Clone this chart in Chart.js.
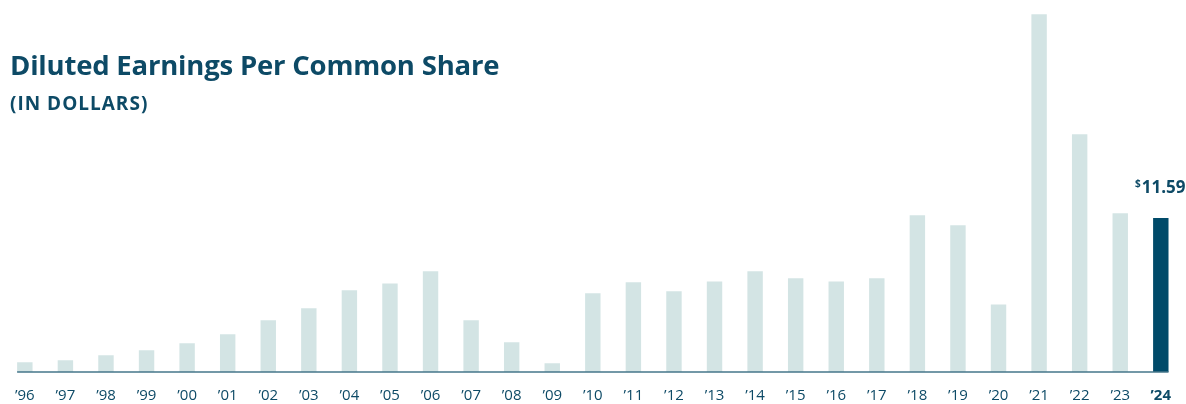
<!DOCTYPE html>
<html>
<head>
<meta charset="utf-8">
<script src="https://cdn.jsdelivr.net/npm/chart.js@4/dist/chart.umd.min.js"></script>
<style>
  body { margin: 0; background: #fff; }
  #wrap { position: relative; width: 1186px; height: 404px; }
  #title {
    position: absolute; left: 10px; top: 46px;
    font-family: "Open Sans", sans-serif; font-weight: 700;
    color: #0d4a66; font-size: 27.5px; letter-spacing: -0.2px;
  }
  #subtitle {
    position: absolute; left: 10px; top: 90px;
    font-family: "Open Sans", sans-serif; font-weight: 700;
    color: #0d4a66; font-size: 19px; letter-spacing: 1px;
  }
</style>
</head>
<body>
<div id="wrap">
  <canvas id="eps" width="1186" height="404"></canvas>
  <div id="title">Diluted Earnings Per Common Share</div>
  <div id="subtitle">(IN DOLLARS)</div>
</div>
<script>
const years = ["’96","’97","’98","’99","’00","’01","’02","’03","’04","’05","’06","’07","’08","’09",
  "’10","’11","’12","’13","’14","’15","’16","’17","’18","’19","’20","’21","’22","’23","’24"];
const eps = [0.73, 0.88, 1.26, 1.63, 2.16, 2.84, 3.89, 4.79, 6.15, 6.67, 7.58, 3.89, 2.23, 0.65,
  5.92, 6.75, 6.07, 6.82, 7.58, 7.05, 6.82, 7.05, 11.79, 11.04, 5.09, 26.92, 17.89, 11.94, 11.59];
const lastLabel = '11.59';

const dark = '#004a69';
const light = '#d3e4e4';
const textColor = '#0d4a66';

// baseline under the bars + value label on the last bar
const extras = {
  id: 'extras',
  afterDatasetsDraw(chart) {
    const ctx = chart.ctx;
    const bars = chart.getDatasetMeta(0).data;
    const first = bars[0], last = bars[bars.length - 1];
    const y0 = chart.scales.y.getPixelForValue(0);
    ctx.save();
    ctx.strokeStyle = '#44768a';
    ctx.lineWidth = 1.5;
    ctx.beginPath();
    ctx.moveTo(first.x - first.width / 2, y0);
    ctx.lineTo(last.x + last.width / 2, y0);
    ctx.stroke();

    ctx.fillStyle = textColor;
    ctx.textBaseline = 'alphabetic';
    ctx.font = 'bold 17px "Open Sans"';
    const w = ctx.measureText(lastLabel).width;
    ctx.font = 'bold 10px "Open Sans"';
    const ws = ctx.measureText('$').width;
    const startX = last.x - (w + ws) / 2 - 1;
    ctx.fillText('$', startX, last.y - 31);
    ctx.font = 'bold 17px "Open Sans"';
    ctx.fillText(lastLabel, startX + ws + 1, last.y - 25);
    ctx.restore();
  }
};

new Chart(document.getElementById('eps'), {
  type: 'bar',
  data: {
    labels: years,
    datasets: [{
      data: eps,
      backgroundColor: eps.map((v, i) => i === eps.length - 1 ? dark : light),
      borderWidth: 0,
      barPercentage: 0.38,
      categoryPercentage: 1
    }]
  },
  options: {
    responsive: false,
    animation: false,
    layout: { padding: { left: 1, right: 3, top: 0, bottom: 0 } },
    plugins: { legend: { display: false }, tooltip: { enabled: false } },
    scales: {
      x: {
        grid: { display: false, drawTicks: false },
        border: { display: false },
        afterFit(scale) { scale.height = 32; },
        ticks: {
          padding: 15,
          color: textColor,
          maxRotation: 0,
          autoSkip: false,
          font: ctx => ({
            family: '"Open Sans"',
            size: 15,
            weight: ctx.index === years.length - 1 ? 'bold' : 'normal'
          })
        }
      },
      y: { display: false, min: 0, max: 28 }
    }
  },
  plugins: [extras]
});
</script>
</body>
</html>
